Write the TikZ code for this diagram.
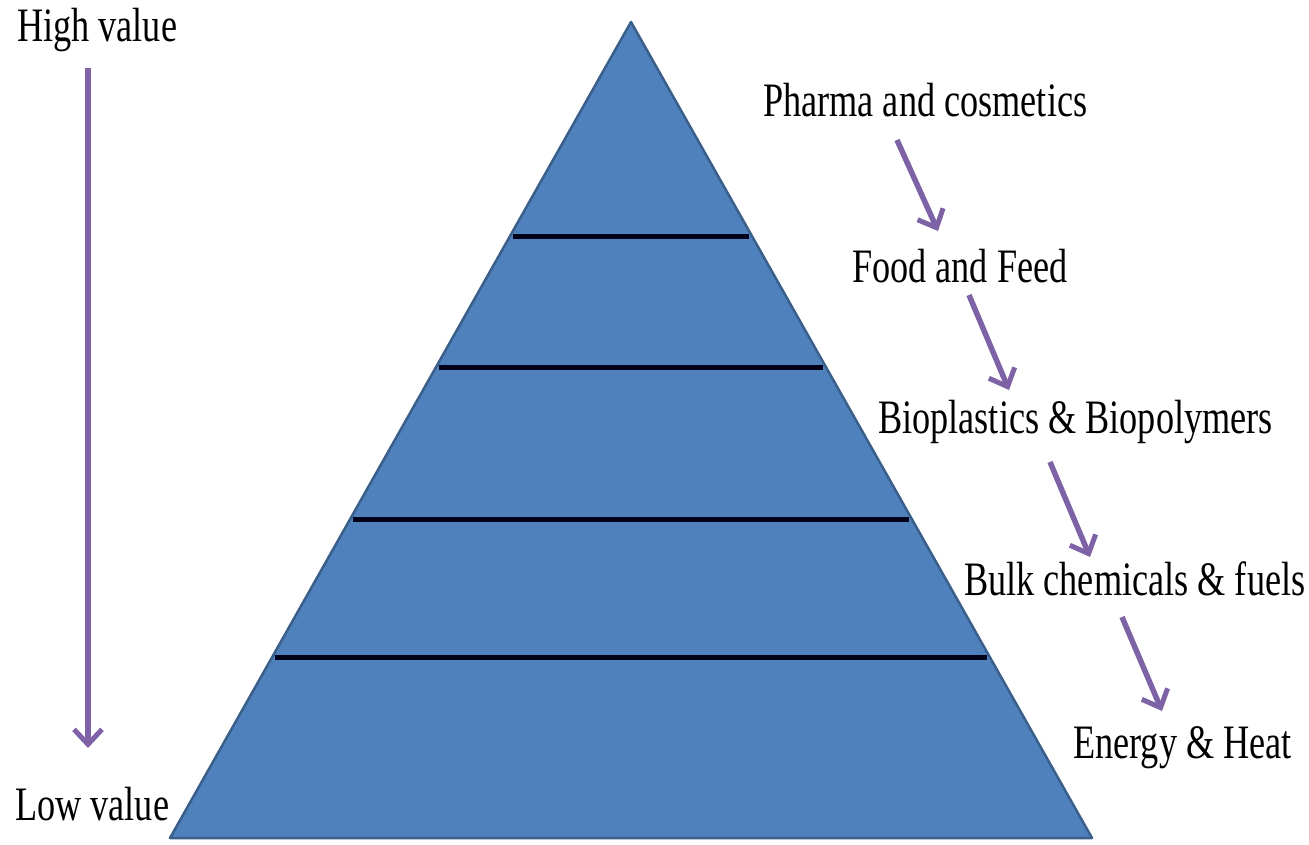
\documentclass[tikz,border=0pt]{standalone}
\usepackage{fontspec}
\setmainfont[FakeStretch=0.755]{Liberation Serif}
\usetikzlibrary{arrows.meta,calc}
\definecolor{pyrblue}{HTML}{4F81BD}
\definecolor{pyredge}{HTML}{3A5F8B}
\definecolor{arrpurple}{HTML}{7E62A6}
\tikzset{
  lbl/.style={anchor=base west,inner sep=0pt,font=\fontsize{48}{50}\selectfont},
  divider/.style={line width=5pt,black!90!blue},
  valarrow/.style={line width=5.5pt,arrpurple,-{Straight Barb[length=15pt,width=28pt,line width=5pt]}},
}
\begin{document}
\begin{tikzpicture}[x=1pt,y=-1pt]
\useasboundingbox (0,0) rectangle (1309,845);
\fill[white] (0,0) rectangle (1309,845);
% pyramid
\coordinate (A) at (631,22);
\coordinate (BL) at (170,838);
\coordinate (BR) at (1092,838);
\filldraw[fill=pyrblue,draw=pyredge,line width=2.5pt,line join=round] (A) -- (BL) -- (BR) -- cycle;
\foreach \t/\n in {0.2623/1,0.4228/2,0.6091/3,0.7794/4}{
  \coordinate (L\n) at ($(A)!\t!(BL)$);
  \coordinate (R\n) at ($(A)!\t!(BR)$);
  \draw[divider] ($(L\n)+(3,0)$) -- ($(R\n)+(-3,0)$);
}
% left labels
\node[lbl] (high) at (17,42) {High value};
\node[lbl] (low) at (15,820) {Low value};
\coordinate (vs) at (88,68);
\coordinate (ve) at (88,748);
\draw[valarrow] (vs) -- (ve);
% right labels
\node[lbl] (pharma) at (763,117) {Pharma and cosmetics};
\node[lbl] (food) at (852,282) {Food and Feed};
\node[lbl] (bio) at (878,433) {Bioplastics \& Biopolymers};
\node[lbl] (bulk) at (964,595) {Bulk chemicals \& fuels};
\node[lbl] (energy) at (1073,758) {Energy \& Heat};
\coordinate (a1s) at (897,140); \coordinate (a1e) at (938,231);
\coordinate (a2s) at (969,295); \coordinate (a2e) at (1009,390);
\coordinate (a3s) at (1050,462); \coordinate (a3e) at (1090,557);
\coordinate (a4s) at (1122,617); \coordinate (a4e) at (1162,711);
\draw[valarrow] (a1s) -- (a1e);
\draw[valarrow] (a2s) -- (a2e);
\draw[valarrow] (a3s) -- (a3e);
\draw[valarrow] (a4s) -- (a4e);
\end{tikzpicture}
\end{document}
